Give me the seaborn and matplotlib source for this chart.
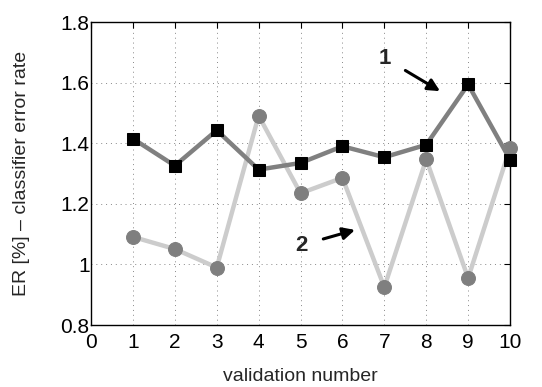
import numpy as np
import pandas as pd
import seaborn as sns
import matplotlib.pyplot as plt

# 数据：验证编号与两种分类器的错误率
validation = [1, 2, 3, 4, 5, 6, 7, 8, 9, 10]
er_series1 = [1.415, 1.326, 1.443, 1.313, 1.335, 1.390, 1.354, 1.395, 1.594, 1.346]
er_series2 = [1.091, 1.051, 0.990, 1.491, 1.235, 1.286, 0.925, 1.347, 0.955, 1.385]
y_ticks = [0.8, 1.0, 1.2, 1.4, 1.6, 1.8]
y_tick_labels = ['0.8', '1', '1.2', '1.4', '1.6', '1.8']

df = pd.DataFrame({'n': validation, 's1': er_series1, 's2': er_series2})

sns.set_theme(style='white')
plt.rcParams['font.family'] = ['Liberation Sans', 'DejaVu Sans']

fig = plt.figure(figsize=(5.42, 3.87), dpi=100)
ax = fig.add_axes([0.168, 0.160, 0.773, 0.783])

sns.lineplot(x='n', y='s2', data=df, ax=ax, color='#cccccc', linewidth=3.2,
             marker='o', markersize=10, markerfacecolor='#7f7f7f',
             markeredgecolor='#7f7f7f', clip_on=False, zorder=3)
sns.lineplot(x='n', y='s1', data=df, ax=ax, color='#808080', linewidth=3.2,
             marker='s', markersize=8, markerfacecolor='black',
             markeredgecolor='black', clip_on=False, zorder=4)

ax.set_xlim(0, 10)
ax.set_ylim(0.8, 1.8)
ax.set_xticks(range(0, 11))
ax.set_yticks(y_ticks)
ax.set_yticklabels(y_tick_labels)
ax.grid(True, linestyle=(0, (1, 4)), color='#888888', linewidth=0.7)
ax.tick_params(direction='in', top=True, right=True, length=4, width=0.8,
               labelsize=15, colors='black', pad=1)
ax.tick_params(axis='x', pad=6)
for s in ax.spines.values():
    s.set_color('black')
    s.set_linewidth(1.0)

ax.set_xlabel('validation number', fontsize=14, labelpad=11)
ax.set_ylabel('ER [%] – classifier error rate', fontsize=14, labelpad=22)

# 标注
ax.annotate('1', xy=(8.33, 1.572), xytext=(7.02, 1.68), fontsize=16, fontweight='bold',
            ha='center', va='center',
            arrowprops=dict(arrowstyle='-|>', color='black', lw=2.2, mutation_scale=18,
                            shrinkA=9, shrinkB=0))
ax.annotate('2', xy=(6.30, 1.114), xytext=(5.03, 1.064), fontsize=16, fontweight='bold',
            ha='center', va='center',
            arrowprops=dict(arrowstyle='-|>', color='black', lw=2.2, mutation_scale=18,
                            shrinkA=9, shrinkB=0))

plt.savefig('out.png', dpi=100)
